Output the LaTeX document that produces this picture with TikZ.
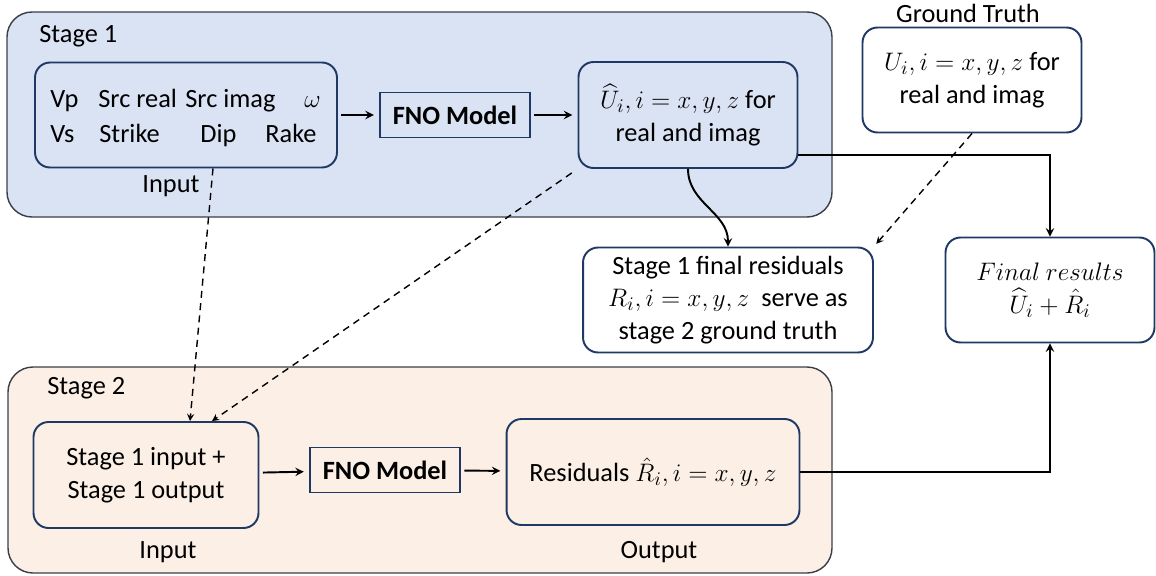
\documentclass[tikz,border=0pt]{standalone}
\usepackage{amsmath}
\usepackage{tikz}
\usepackage{fontspec}
\setmainfont{Carlito}

\definecolor{stageblue}{HTML}{DAE3F3}
\definecolor{stagepeach}{HTML}{FBEFE6}
\definecolor{boxnavy}{HTML}{203864}
\definecolor{stageline}{HTML}{3A3F47}

\begin{document}
\begin{tikzpicture}[x=0.02cm,y=-0.02cm,
  font=\fontsize{15}{18.5}\selectfont,
  stage/.style={draw=stageline,line width=0.8pt,rounded corners=0.5cm},
  blk/.style={draw=boxnavy,line width=1.1pt,rounded corners=0.3cm,align=center,inner sep=2pt},
  fno/.style={draw=boxnavy,line width=1.1pt,font=\fontsize{15}{18.5}\selectfont\bfseries,minimum width=3cm,minimum height=0.9cm},
  word/.style={inner sep=0pt,anchor=base west},
  arr/.style={line width=1.1pt,->,>=stealth},
  dsh/.style={line width=0.8pt,dash pattern=on 4pt off 3pt,->,>=stealth}]
\useasboundingbox (0,0) rectangle (1156,575);

% stage frames
\draw[stage,fill=stageblue] (7,12) rectangle (832,217);
\draw[stage,fill=stagepeach] (8,367) rectangle (832,573);
\node[word] (s1) at (39,42) {Stage 1};
\node[word] (s2) at (47,394) {Stage 2};

% stage 1
\node[blk,minimum width=6.04cm,minimum height=2.1cm] (in1) at (186,115) {};
\node[word] (vp) at (50,107) {Vp};
\node[word] (srcre) at (98,107) {Src real};
\node[word] (srcim) at (185,107) {Src imag};
\node[word] (om) at (304,107) {$\omega$};
\node[word] (vs) at (50,142) {Vs};
\node[word] (strike) at (99,142) {Strike};
\node[word] (dip) at (200,142) {Dip};
\node[word] (rake) at (265,142) {Rake};
\node (lin1) at (171,186) {Input};

\node[fno] (fno1) at (455,115) {FNO Model};
\node[blk,minimum width=4.38cm,minimum height=2.12cm] (uh1) at (688,115)
  {$\widehat{U}_i, i = x, y, z$ for\\ real and imag};

% ground truth and residuals
\node (lgt) at (968,13) {Ground Truth};
\node[blk,fill=white,minimum width=4.38cm,minimum height=2.1cm] (gt) at (972,80)
  {$U_i, i = x, y, z$ for\\ real and imag};
\node[blk,fill=white,minimum width=5.8cm,minimum height=2.1cm] (res1) at (728,300)
  {Stage 1 final residuals\\ $R_i, i = x, y, z$\ \ serve as\\ stage 2 ground truth};
\node[blk,fill=white,minimum width=4.18cm,minimum height=2.1cm] (fin) at (1050,290)
  {$Final\ results$\\ $\widehat{U}_i + \hat{R}_i$};

% stage 2
\node[blk,minimum width=4.5cm,minimum height=2.12cm] (in2) at (146,475)
  {Stage 1 input +\\ Stage 1 output};
\node[fno] (fno2) at (385,470) {FNO Model};
\node[blk,minimum width=5.86cm,minimum height=2.12cm] (res2) at (653,472)
  {Residuals $\hat{R}_i, i = x, y, z$};
\node (lin2) at (168,552) {Input};
\node (lout2) at (659,552) {Output};

% connectors
\draw[arr,shorten <=2pt,shorten >=3pt] (in1) -- (fno1);
\draw[arr,shorten <=2pt,shorten >=3pt] (fno1) -- (uh1);
\draw[arr,shorten <=2pt,shorten >=3pt] (in2) -- (fno2);
\draw[arr,shorten <=2pt,shorten >=3pt] (fno2) -- (res2);
\draw[arr] ([yshift=-0.8cm]uh1.east) -| (fin.north);
\draw[arr] (res2.east) -| (fin.south);
\draw[arr] (uh1.south) to[out=-90,in=90] (res1.north);
\draw[dsh,shorten >=2pt] (gt.south) -- (res1.north east);
\draw[dsh] ([xshift=0.54cm]in1.south) -- ([xshift=0.88cm]in2.north);
\draw[dsh,shorten <=4pt] (uh1.south west) -- ([xshift=1.32cm]in2.north);
\end{tikzpicture}
\end{document}
